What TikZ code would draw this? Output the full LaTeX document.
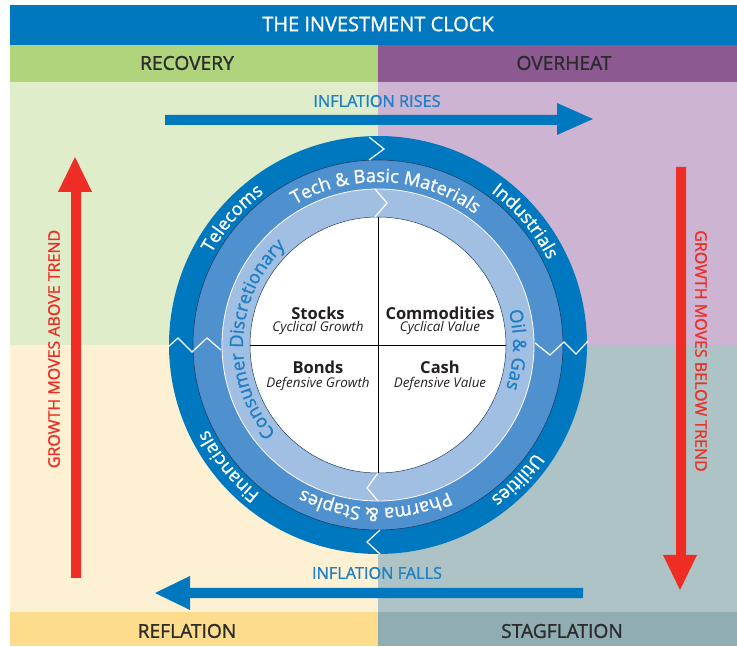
\documentclass[tikz,border=0pt]{standalone}
\usepackage{fontspec}
\setmainfont{Open Sans}
\newfontfamily\semifont[FakeBold=1.2]{Open Sans}
\usetikzlibrary{decorations.text}
\definecolor{clockblue}{HTML}{0078BF}
\definecolor{midblue}{HTML}{4F91CF}
\definecolor{lightblue}{HTML}{A1BEE3}
\definecolor{bluetext}{HTML}{1F7FC4}
\definecolor{ringline}{HTML}{1D3F66}
\definecolor{recbar}{HTML}{AFD47B}
\definecolor{recbody}{HTML}{DFEDCB}
\definecolor{ovhbar}{HTML}{8C5A91}
\definecolor{ovhbody}{HTML}{CDB4D2}
\definecolor{refbar}{HTML}{FDDD8C}
\definecolor{refbody}{HTML}{FEF1D3}
\definecolor{stgbar}{HTML}{8FADB3}
\definecolor{stgbody}{HTML}{AEC3C6}
\definecolor{arrowred}{HTML}{EE2E24}
\definecolor{phasetext}{HTML}{2B2B2B}
\definecolor{assettext}{HTML}{231F20}
\newcommand\ringfont{\semifont\fontsize{18.3}{18.3}\selectfont}
\newcommand\ringlabel[5]{%
  \path[ringtext={#4}{#5}] (#2+#3:#1) arc[start angle=#2+#3, end angle=#2-#3, radius=#1];}
\begin{document}
\begin{tikzpicture}[x=1pt,y=1pt,
  phase/.style={font=\semifont\fontsize{19.2}{19.2}\selectfont, text=phasetext, inner sep=0pt},
  infl/.style={font=\semifont\fontsize{16.3}{16.3}\selectfont, text=bluetext, inner sep=0pt},
  growth/.style={font=\semifont\fontsize{16}{16}\selectfont, text=arrowred, inner sep=0pt},
  asset/.style={font=\fontsize{16.5}{16.5}\selectfont\bfseries, text=assettext, inner sep=0pt},
  assetsub/.style={font=\fontsize{13.4}{13.4}\selectfont\itshape, text=assettext, inner sep=0pt},
  ringtext/.style 2 args={decorate, decoration={text along path, text align=center,
      text color=#1, text={|\ringfont|#2}}},
  sep/.style={white, line width=1.2pt, line join=miter},
]
\useasboundingbox (0,0) rectangle (737,646);
% backgrounds
\fill[recbody] (10,301) rectangle (378,564);
\fill[ovhbody] (378,301) rectangle (737,564);
\fill[refbody] (10,34) rectangle (378,301);
\fill[stgbody] (378,34) rectangle (737,301);
\fill[clockblue] (10,601) rectangle (737,641);
\fill[recbar] (10,564) rectangle (378,601);
\fill[ovhbar] (378,564) rectangle (737,601);
\fill[refbar] (10,0) rectangle (378,34);
\fill[stgbar] (378,0) rectangle (737,34);
% titles
\node[font=\semifont\fontsize{20}{20}\selectfont, text=white, inner sep=0pt] (title) at (378,622) {THE INVESTMENT CLOCK};
\node[phase] (recovery) at (187,583) {RECOVERY};
\node[phase] (overheat) at (564,583) {OVERHEAT};
\node[phase] (reflation) at (187,15) {REFLATION};
\node[phase] (stagflation) at (562,15) {STAGFLATION};
% inflation arrows
\node[infl] (rises) at (377,545) {INFLATION RISES};
\fill[clockblue] (165,521) -- (557,521) -- (557,511) -- (593,527) -- (557,543) -- (557,531) -- (165,531) -- cycle;
\node[infl] (falls) at (377,73) {INFLATION FALLS};
\fill[clockblue] (583,48) -- (190,48) -- (190,36) -- (155,53) -- (190,70) -- (190,58) -- (583,58) -- cycle;
% growth arrows
\fill[arrowred] (71,68) -- (71,454) -- (58,454) -- (75,489) -- (92,454) -- (81,454) -- (81,68) -- cycle;
\node[growth, rotate=90] (above) at (54,297) {GROWTH MOVES ABOVE TREND};
\fill[arrowred] (676,479) -- (676,91) -- (663,91) -- (680,56) -- (697,91) -- (686,91) -- (686,479) -- cycle;
\node[growth, rotate=-90] (below) at (701,295) {GROWTH MOVES BELOW TREND};
% clock
\coordinate (C) at (378,301);
\begin{scope}[shift={(378,301)}]
  \fill[clockblue] (0,0) circle (209);
  \fill[midblue] (0,0) circle (185);
  \draw[ringline, line width=0.6pt] (0,0) circle (185);
  \fill[lightblue] (0,0) circle (156);
  \draw[white, line width=0.8pt] (0,0) circle (156);
  \fill[white] (0,0) circle (128);
  \draw[ringline, line width=0.5pt] (0,0) circle (128);
  % ring labels
  \ringlabel{190}{139}{50}{white}{Telecoms}
  \ringlabel{190}{40}{50}{white}{Industrials}
  \ringlabel{190}{316}{50}{white}{Utilities}
  \ringlabel{190}{219}{50}{white}{Financials}
  \ringlabel{163}{87}{80}{white}{Tech {\&} Basic Materials}
  \ringlabel{163}{269}{80}{white}{Pharma {\&} Staples}
  \ringlabel{135}{177}{85}{bluetext}{Consumer Discretionary}
  \ringlabel{135}{-2}{60}{bluetext}{Oil {\&} Gas}
  % separators
  \draw[sep] (-210,-2) -- (-200,7) -- (-186,-7) -- (-171,7) -- (-157,-5);
  \draw[sep] (157,2) -- (172,-10) -- (186,3) -- (198,-9) -- (210,4);
  \draw[sep] (-9,208) -- (6,196) -- (-9,185);
  \draw[sep] (-3,156) -- (9,142) -- (-3,128);
  \draw[sep] (2,-185) -- (-11,-197) -- (2,-209);
  \draw[sep] (0,-128) -- (-11,-143) -- (0,-156);
  % cross
  \draw[black, line width=0.7pt] (0,128) -- (0,-128);
  \draw[black, line width=0.7pt] (-128,0) -- (128,0);
\end{scope}
% assets
\node[asset] (stocks) at (318,333) {Stocks};
\node[assetsub] (cycg) at (318,318) {Cyclical Growth};
\node[asset] (commod) at (440,333) {Commodities};
\node[assetsub] (cycv) at (440,318) {Cyclical Value};
\node[asset] (bonds) at (318,279) {Bonds};
\node[assetsub] (defg) at (318,262) {Defensive Growth};
\node[asset] (cash) at (440,279) {Cash};
\node[assetsub] (defv) at (440,262) {Defensive Value};
\end{tikzpicture}
\end{document}
